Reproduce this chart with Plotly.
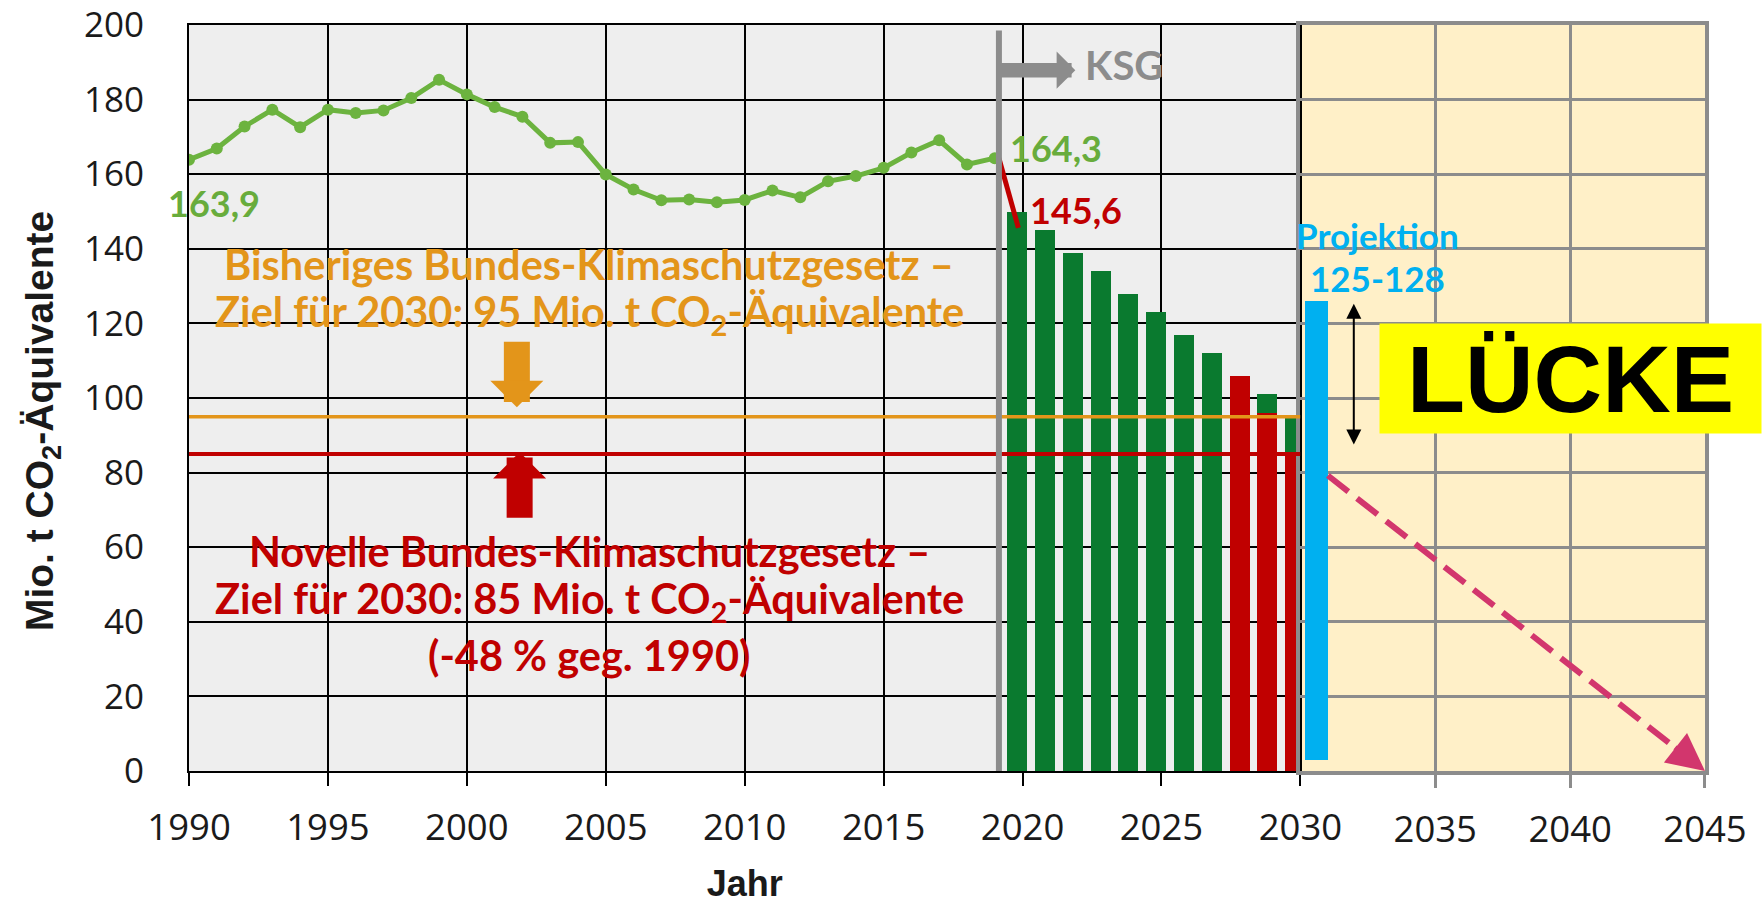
import numpy as np
import plotly.graph_objects as go

# ---------------- data ----------------
hist_years = list(range(1990, 2020))
hist_values = [163.9, 166.9, 172.8, 177.3, 172.6, 177.3, 176.4, 177.1, 180.4, 185.3,
               181.4, 178.0, 175.4, 168.4, 168.6, 159.9, 155.9, 153.0, 153.2, 152.5,
               153.1, 155.6, 153.8, 158.1, 159.5, 161.7, 165.8, 169.1, 162.6, 164.3]

target_years = list(range(2020, 2031))
old_targets = [150, 145, 139, 134, 128, 123, 117, 112, 106, 101, 95]

new_target_years = [2028, 2029, 2030]
new_targets = [106, 96, 85]

drop_years = [2019.15, 2019.85]
drop_values = [164.3, 145.6]

old_goal_2030 = 95
new_goal_2030 = 85

proj_year = [2030.6]
proj_low = [3]
proj_high = [126]

path_years = [2030, 2045]
path_values = [85, 0]

ksg_year = 2019.15

# ---------------- colours ----------------
GREEN_LINE = "#6cb33f"
GREEN_TXT = "#68ac3c"
GREEN_BAR = "#0a7a2f"
RED = "#c00000"
ORANGE = "#e3951a"
CYAN = "#00b0f0"
GRAY = "#8c8c8c"
BEIGE = "#fff0c8"
PINK = "#d2366d"

BAR_W = 0.72
BAR_OFF = -0.55
PROJ_W = 0.84

fig = go.Figure()

# old KSG annual targets (green bars)
fig.add_trace(go.Bar(x=target_years, y=old_targets, width=BAR_W, offset=BAR_OFF,
                     marker=dict(color=GREEN_BAR, line=dict(width=0)),
                     xaxis="x", yaxis="y", showlegend=False))
# new KSG annual targets (red bars)
fig.add_trace(go.Bar(x=new_target_years, y=new_targets, width=BAR_W, offset=BAR_OFF,
                     marker=dict(color=RED, line=dict(width=0)),
                     xaxis="x", yaxis="y", showlegend=False))
# historic emissions
fig.add_trace(go.Scatter(x=hist_years, y=hist_values, mode="lines+markers",
                         line=dict(color=GREEN_LINE, width=5),
                         marker=dict(color=GREEN_LINE, size=12),
                         xaxis="x", yaxis="y", showlegend=False))
# drop 2019 -> 2020
fig.add_trace(go.Scatter(x=drop_years, y=drop_values, mode="lines",
                         line=dict(color=RED, width=5),
                         xaxis="x", yaxis="y", showlegend=False))

# projection bar
fig.add_trace(go.Bar(x=proj_year, y=[h - l for h, l in zip(proj_high, proj_low)], base=proj_low,
                     width=PROJ_W, marker=dict(color=CYAN, line=dict(width=0)),
                     xaxis="x2", yaxis="y2", showlegend=False))

# path to 2045 (dashed) starting at the right edge of the projection bar
x_start = proj_year[0] + PROJ_W / 2
y_start = float(np.interp(x_start, path_years, path_values))
fig.add_trace(go.Scatter(x=[x_start, path_years[1]], y=[y_start, path_values[1]], mode="lines",
                         line=dict(color=PINK, width=6, dash="26px,11px"),
                         xaxis="x2", yaxis="y2", showlegend=False))

shapes = [
    dict(type="rect", xref="x domain", yref="y domain", x0=0, x1=1, y0=0, y1=1,
         fillcolor="#eeeeee", line=dict(width=0), layer="below"),
    dict(type="rect", xref="x2 domain", yref="y2 domain", x0=0, x1=1, y0=0, y1=1,
         fillcolor=BEIGE, line=dict(width=0), layer="below"),
    dict(type="line", xref="x", yref="y", x0=1989.35, x1=2030, y0=old_goal_2030, y1=old_goal_2030,
         line=dict(color=ORANGE, width=3.5), layer="above"),
    dict(type="line", xref="x", yref="y", x0=1989.45, x1=2030, y0=new_goal_2030, y1=new_goal_2030,
         line=dict(color=RED, width=4), layer="above"),
    dict(type="line", xref="x", yref="y", x0=ksg_year, x1=ksg_year, y0=-2.7, y1=198.5,
         line=dict(color=GRAY, width=6), layer="above"),
]

TXT_FONT = "Lato, Open Sans, sans-serif"

def label(text, x, y, color, size, xref="x", yref="y", family=TXT_FONT, angle=0):
    return dict(text=text, x=x, y=y, xref=xref, yref=yref, showarrow=False, textangle=angle,
                font=dict(family=family, size=size, color=color, weight="bold"),
                xanchor="center", yanchor="middle")

annotations = [
    label("163,9", 1990.9, 152.3, GREEN_TXT, 36),
    label("164,3", 2021.22, 167.0, GREEN_TXT, 36),
    label("145,6", 2021.92, 150.5, RED, 36),
    label("KSG", 2023.66, 189.2, GRAY, 40),
    label("Bisheriges Bundes-Klimaschutzgesetz –", 2004.4, 136.0, ORANGE, 41.5),
    label("Ziel für 2030: 95 Mio. t CO<sub>2</sub>-Äquivalente", 2004.4, 122.5, ORANGE, 41.5),
    label("Novelle Bundes-Klimaschutzgesetz –", 2004.4, 59.1, RED, 41.5),
    label("Ziel für 2030: 85 Mio. t CO<sub>2</sub>-Äquivalente", 2004.4, 45.6, RED, 41.5),
    label("(-48 % geg. 1990)", 2004.4, 31.1, RED, 41.5),
    label("Projektion", 2032.85, 143.7, CYAN, 35, xref="x2", yref="y2"),
    label("125-128", 2032.85, 132.3, CYAN, 35, xref="x2", yref="y2"),
    # y axis title (placed like the reference, slightly below the axis centre)
    label("Mio. t CO<sub>2</sub>-Äquivalente", -0.097, 0.469, "#1a1a1a", 39,
          xref="paper", yref="paper", family="Liberation Sans, Arial", angle=-90),
    # KSG arrow
    dict(x=2021.9, y=187.9, ax=ksg_year, ay=187.9, xref="x", yref="y", axref="x", ayref="y",
         text="", showarrow=True, arrowhead=1, arrowwidth=14.5, arrowsize=0.43, arrowcolor=GRAY),
    # orange arrow down to 95
    dict(x=2001.8, y=97.5, ax=2001.8, ay=115.5, xref="x", yref="y", axref="x", ayref="y",
         text="", showarrow=True, arrowhead=1, arrowwidth=26, arrowsize=0.34, arrowcolor=ORANGE),
    # red arrow up to 85
    dict(x=2001.9, y=85.5, ax=2001.9, ay=67.5, xref="x", yref="y", axref="x", ayref="y",
         text="", showarrow=True, arrowhead=1, arrowwidth=26, arrowsize=0.34, arrowcolor=RED),
    # gap double arrow
    dict(x=2031.98, y=125.3, ax=2031.98, ay=87.1, xref="x2", yref="y2", axref="x2", ayref="y2",
         text="", showarrow=True, arrowhead=2, startarrowhead=2, arrowside="end+start",
         arrowwidth=2, arrowsize=1.5, startarrowsize=1.5, arrowcolor="black"),
    # arrowhead of the path to 2045
    dict(x=path_years[1], y=path_values[1], ax=-31.5, ay=-24.7, xref="x2", yref="y2",
         text="", showarrow=True, arrowhead=2, arrowwidth=5, arrowsize=1.5, arrowcolor=PINK),
    # LÜCKE box
    dict(text="LÜCKE", x=2040.03, y=105.3, xref="x2", yref="y2", showarrow=False,
         font=dict(family="Liberation Sans, Arial, sans-serif", size=95, color="black", weight="bold"),
         bgcolor="#ffff00", width=381, height=109, borderpad=0, xanchor="center", yanchor="middle"),
]

TICK_FONT = dict(family="Open Sans, sans-serif", size=36.5, color="#1a1a1a")
SPLIT = 0.7331

fig.update_layout(
    width=1762, height=904,
    margin=dict(l=189, r=57, t=25, b=133, pad=0),
    paper_bgcolor="white", plot_bgcolor="rgba(0,0,0,0)",
    barmode="overlay", bargap=0,
    shapes=shapes, annotations=annotations,
    xaxis=dict(domain=[0, SPLIT], range=[1990, 2030], anchor="y", automargin=False,
               tickvals=list(range(1990, 2031, 5)), tickfont=TICK_FONT,
               ticks="outside", ticklen=13, tickwidth=2, tickcolor="black",
               ticklabelstandoff=10, ticklabeloverflow="allow",
               showgrid=True, gridcolor="black", gridwidth=1.5, zeroline=False,
               showline=True, linecolor="black", linewidth=2, mirror=True,
               title=dict(text="<b>Jahr</b>", standoff=26,
                          font=dict(family="Liberation Sans Narrow, Liberation Sans, Arial", size=36,
                                    color="#1a1a1a"))),
    xaxis2=dict(domain=[SPLIT, 1], range=[2030, 2045], anchor="y2", automargin=False,
                tickvals=[2035, 2040, 2045], tickfont=TICK_FONT,
                ticks="outside", ticklen=13, tickwidth=3, tickcolor=GRAY,
                ticklabelstandoff=10, ticklabeloverflow="allow",
                showgrid=True, gridcolor=GRAY, gridwidth=3, zeroline=False,
                showline=True, linecolor=GRAY, linewidth=4, mirror=True),
    yaxis=dict(domain=[0, 1], range=[0, 200], anchor="x", dtick=20, automargin=False,
               tickfont=dict(family="Open Sans, sans-serif", size=35, color="#1a1a1a"),
               ticks="", ticklabelstandoff=36, ticklabeloverflow="allow",
               showgrid=True, gridcolor="black", gridwidth=1.5, zeroline=False,
               showline=True, linecolor="black", linewidth=2, mirror=True),
    yaxis2=dict(domain=[0, 1], range=[0, 200], anchor="x2", matches="y", dtick=20, automargin=False,
                showticklabels=False, ticks="",
                showgrid=True, gridcolor=GRAY, gridwidth=3, zeroline=False,
                showline=True, linecolor=GRAY, linewidth=4, mirror=True),
)

# remove the browser's default 8px page margin so the figure fills the window exactly
fig.write_html("out.html", config={"displayModeBar": False},
               post_script="document.body.style.margin='0';")
